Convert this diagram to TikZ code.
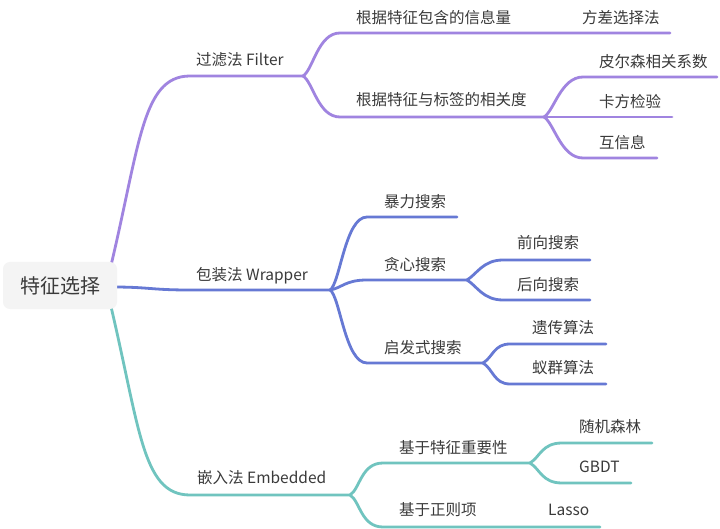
\documentclass[tikz,border=0pt]{standalone}
\usepackage{fontspec}
\setmainfont{Noto Sans CJK SC}
\usetikzlibrary{backgrounds}
\definecolor{cpur}{HTML}{A084E0}
\definecolor{cblu}{HTML}{6679D4}
\definecolor{ctea}{HTML}{70C4BF}
\definecolor{ctxt}{HTML}{3A3A3A}
\definecolor{croot}{HTML}{F4F4F4}
\tikzset{
  topic/.style={anchor=base west, inner sep=0pt, text=ctxt, font=\fontsize{15.5}{18}\selectfont},
  rootbox/.style={fill=croot, rounded corners=7pt, minimum width=114pt, minimum height=47pt, inner sep=0pt, text=ctxt, font=\fontsize{20}{24}\selectfont},
  conn/.style={line width=2.8pt, line cap=round},
  pur/.style={conn, draw=cpur},
  blu/.style={conn, draw=cblu},
  tea/.style={conn, draw=ctea},
}
\begin{document}
\begin{tikzpicture}[x=1pt,y=-1pt]
\useasboundingbox (0,0) rectangle (720,529);
% root
\node[rootbox] (root) at (60,285.5) {特征选择};
% main topics
\node[topic] (f) at (196,65.5) {过滤法 Filter};
\node[topic] (w) at (196,280.5) {包装法 Wrapper};
\node[topic] (e) at (197,483.5) {嵌入法 Embedded};
% filter children
\node[topic] (f1) at (356,23.5) {根据特征包含的信息量};
\node[topic] (f11) at (582,23.5) {方差选择法};
\node[topic] (f2) at (356,105.5) {根据特征与标签的相关度};
\node[topic] (f21) at (599,67.5) {皮尔森相关系数};
\node[topic] (f22) at (599,107.5) {卡方检验};
\node[topic] (f23) at (599,148.5) {互信息};
% wrapper children
\node[topic] (w1) at (384,207.5) {暴力搜索};
\node[topic] (w2) at (384,270.5) {贪心搜索};
\node[topic] (w21) at (517,248.5) {前向搜索};
\node[topic] (w22) at (517,290.5) {后向搜索};
\node[topic] (w3) at (384,353.5) {启发式搜索};
\node[topic] (w31) at (532,333.5) {遗传算法};
\node[topic] (w32) at (532,373.5) {蚁群算法};
% embedded children
\node[topic] (e1) at (399,453.5) {基于特征重要性};
\node[topic] (e11) at (579,432.5) {随机森林};
\node[topic] (e12) at (579,472.5) {GBDT};
\node[topic] (e2) at (399,515.5) {基于正则项};
\node[topic] (e21) at (548,515.5) {Lasso};
% line coordinates
\coordinate (r0) at (106,286);
\coordinate (r1) at (112,287);
\coordinate (fs) at (190,76);  \coordinate (fe) at (303,76);
\coordinate (ws) at (190,290); \coordinate (we) at (330,290);
\coordinate (es) at (190,495); \coordinate (ee) at (350,495);
\coordinate (f1s) at (340,33);  \coordinate (f1e) at (670,33);
\coordinate (f2s) at (340,117); \coordinate (f2e) at (544,117);
\coordinate (f21s) at (583,77); \coordinate (f21e) at (717,77);
\coordinate (f22e) at (672,117);
\coordinate (f23s) at (583,158); \coordinate (f23e) at (657,158);
\coordinate (w1s) at (367,217); \coordinate (w1e) at (457,217);
\coordinate (w2s) at (367,280); \coordinate (w2e) at (467,280);
\coordinate (w21s) at (503,260); \coordinate (w21e) at (590,260);
\coordinate (w22s) at (503,300); \coordinate (w22e) at (590,300);
\coordinate (w3s) at (367,363); \coordinate (w3e) at (483,363);
\coordinate (w31s) at (510,344); \coordinate (w31e) at (606,344);
\coordinate (w32s) at (510,384); \coordinate (w32e) at (606,384);
\coordinate (e1s) at (383,463); \coordinate (e1e) at (530,463);
\coordinate (e11s) at (562,443); \coordinate (e11e) at (652,443);
\coordinate (e12s) at (562,483); \coordinate (e12e) at (631,483);
\coordinate (e2s) at (383,527); \coordinate (e2e) at (600,527);
\begin{scope}[on background layer]
\fill[white] (0,0) rectangle (720,529);
% root connectors
\draw[pur] (r0) .. controls (140,150) and (140,76) .. (fs) -- (fe);
\draw[blu] (r1) .. controls (150,287) and (150,290) .. (ws) -- (we);
\draw[tea] (r0) .. controls (140,423) and (140,495) .. (es) -- (ee);
% filter
\draw[pur] (fe) .. controls +(10,-6) and +(-22,0) .. (f1s) -- (f1e);
\draw[pur] (fe) .. controls +(10,6) and +(-22,0) .. (f2s) -- (f2e);
\draw[pur] (f2e) .. controls +(10,-6) and +(-22,0) .. (f21s) -- (f21e);
\draw[pur] (f2e) -- (f22e);
\draw[pur] (f2e) .. controls +(10,6) and +(-22,0) .. (f23s) -- (f23e);
% wrapper
\draw[blu] (we) .. controls +(10,-6) and +(-22,0) .. (w1s) -- (w1e);
\draw[blu] (we) .. controls +(12,-2) and +(-22,0) .. (w2s) -- (w2e);
\draw[blu] (we) .. controls +(10,6) and +(-22,0) .. (w3s) -- (w3e);
\draw[blu] (w2e) .. controls +(10,-6) and +(-20,0) .. (w21s) -- (w21e);
\draw[blu] (w2e) .. controls +(10,6) and +(-20,0) .. (w22s) -- (w22e);
\draw[blu] (w3e) .. controls +(10,-6) and +(-16,0) .. (w31s) -- (w31e);
\draw[blu] (w3e) .. controls +(10,6) and +(-16,0) .. (w32s) -- (w32e);
% embedded
\draw[tea] (ee) .. controls +(10,-6) and +(-22,0) .. (e1s) -- (e1e);
\draw[tea] (ee) .. controls +(10,6) and +(-22,0) .. (e2s) -- (e2e);
\draw[tea] (e1e) .. controls +(10,-6) and +(-20,0) .. (e11s) -- (e11e);
\draw[tea] (e1e) .. controls +(10,6) and +(-20,0) .. (e12s) -- (e12e);
\end{scope}
\end{tikzpicture}
\end{document}
